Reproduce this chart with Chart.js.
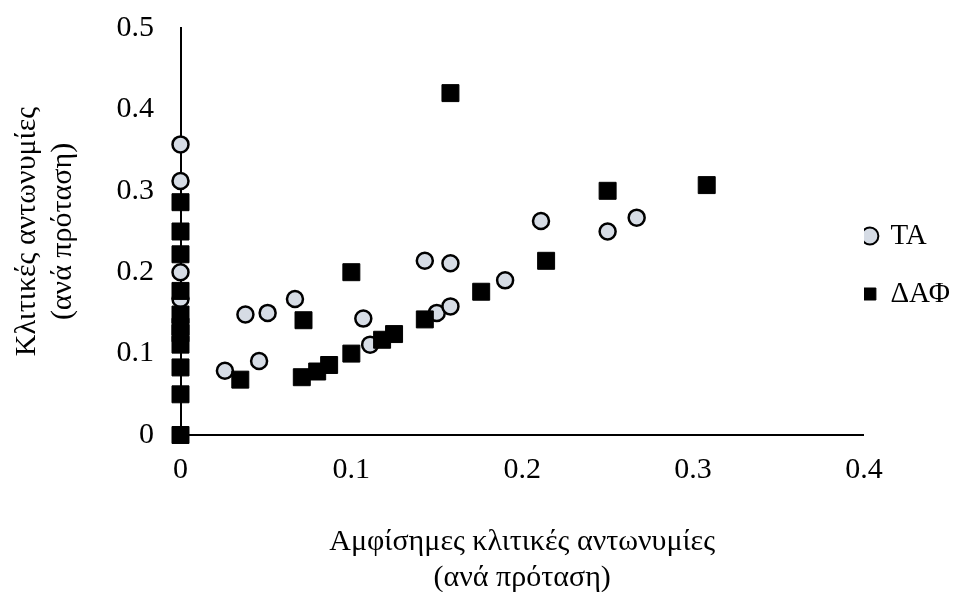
<!DOCTYPE html>
<html>
<head>
<meta charset="utf-8">
<script src="https://cdn.jsdelivr.net/npm/chart.js@4.4.1/dist/chart.umd.min.js"></script>
<style>
    html, body { margin: 0; padding: 0; background: #fff; }
    canvas { display: block; }
</style>
</head>
<body>
<canvas id="grafica" width="962" height="592"></canvas>
<script>
// Datos
const seriesNames = ['ΤΑ', 'ΔΑΦ'];

const taX = [0, 0, 0, 0, 0.026, 0.038, 0.046, 0.051, 0.067, 0.107, 0.111, 0.143, 0.15, 0.158, 0.158, 0.19, 0.211, 0.25, 0.267];
const taY = [0.357, 0.312, 0.2, 0.167, 0.079, 0.148, 0.091, 0.15, 0.167, 0.143, 0.111, 0.214, 0.15, 0.158, 0.211, 0.19, 0.263, 0.25, 0.267];

const dafX = [0, 0, 0, 0, 0, 0, 0, 0, 0, 0, 0, 0.035, 0.071, 0.072, 0.08, 0.087, 0.1, 0.1, 0.118, 0.125, 0.143, 0.158, 0.176, 0.214, 0.25, 0.308];
const dafY = [0.286, 0.25, 0.222, 0.177, 0.148, 0.133, 0.125, 0.111, 0.083, 0.05, 0, 0.068, 0.071, 0.141, 0.078, 0.086, 0.1, 0.2, 0.117, 0.124, 0.142, 0.42, 0.176, 0.214, 0.3, 0.307];

const xTickLabels = ['0', '0.1', '0.2', '0.3', '0.4'];
const yTickLabels = ['0', '0.1', '0.2', '0.3', '0.4', '0.5'];

const xTitle = ['Αμφίσημες κλιτικές αντωνυμίες', '(ανά πρόταση)'];
const yTitle = ['Κλιτικές αντωνυμίες', '(ανά πρόταση)'];

const FONT = 'Liberation Serif';

function puntos(xs, ys) {
    return xs.map((x, i) => ({x: x, y: ys[i]}));
}

Chart.defaults.font.family = FONT;
Chart.defaults.color = '#000';

const ctx = document.getElementById('grafica').getContext('2d');
const chart = new Chart(ctx, {
    type: 'scatter',
    data: {
        datasets: [
            {
                label: seriesNames[0],
                data: puntos(taX, taY),
                pointStyle: 'circle',
                pointRadius: 8,
                pointHoverRadius: 8,
                backgroundColor: '#d6dce5',
                borderColor: '#000',
                borderWidth: 2.5,
                order: 2,
                clip: false,
            },
            {
                label: seriesNames[1],
                data: puntos(dafX, dafY),
                pointStyle: 'rect',
                pointRadius: 12,
                pointHoverRadius: 12,
                backgroundColor: '#000',
                borderColor: '#000',
                borderWidth: 1,
                order: 1,
                clip: false,
            },
        ],
    },
    options: {
        responsive: false,
        animation: false,
        devicePixelRatio: 1,
        layout: {
            padding: {top: 28, right: 2, bottom: 0, left: 0},
        },
        scales: {
            x: {
                type: 'linear',
                position: 'bottom',
                min: 0,
                max: 0.4,
                // sin lineas de rejilla, el tickLength solo sirve de separacion
                grid: {display: false, drawTicks: true, tickLength: 17},
                border: {display: true, color: '#000', width: 2},
                ticks: {
                    stepSize: 0.1,
                    padding: 0,
                    color: '#000',
                    font: {family: FONT, size: 30},
                    callback: (value, index) => xTickLabels[index],
                },
                title: {
                    display: true,
                    text: xTitle,
                    color: '#000',
                    font: {family: FONT, size: 30, lineHeight: 1.2},
                    padding: {top: 36, bottom: -4},
                },
            },
            y: {
                type: 'linear',
                min: 0,
                max: 0.5,
                grid: {display: false, drawTicks: true, tickLength: 26.5},
                border: {display: true, color: '#000', width: 2},
                ticks: {
                    stepSize: 0.1,
                    padding: 0,
                    color: '#000',
                    font: {family: FONT, size: 30},
                    callback: (value, index) => yTickLabels[index],
                },
                title: {
                    display: true,
                    text: yTitle,
                    color: '#000',
                    font: {family: FONT, size: 30, lineHeight: 1.2},
                    padding: {top: 9, bottom: 35.5},
                },
            },
        },
        plugins: {
            tooltip: {enabled: false},
            legend: {
                display: true,
                position: 'right',
                align: 'center',
                fullSize: false,
                title: {
                    display: true,
                    text: ' ',
                    font: {family: FONT, size: 30, lineHeight: 1.2},
                    padding: 15.5,
                },
                labels: {
                    usePointStyle: true,
                    boxWidth: 12,
                    boxHeight: 12,
                    padding: 0,
                    color: '#000',
                    font: {family: FONT, size: 29},
                    generateLabels: function (chart) {
                        const items = Chart.defaults.plugins.legend.labels.generateLabels(chart);
                        items.sort((a, b) => a.datasetIndex - b.datasetIndex);
                        items[0].lineWidth = 2;
                        // hueco vacio entre las dos entradas
                        items.splice(1, 0, {
                            text: '',
                            fillStyle: 'rgba(0,0,0,0)',
                            strokeStyle: 'rgba(0,0,0,0)',
                            lineWidth: 0,
                            pointStyle: 'circle',
                            hidden: false,
                        });
                        return items;
                    },
                },
            },
        },
    },
});
</script>
</body>
</html>
